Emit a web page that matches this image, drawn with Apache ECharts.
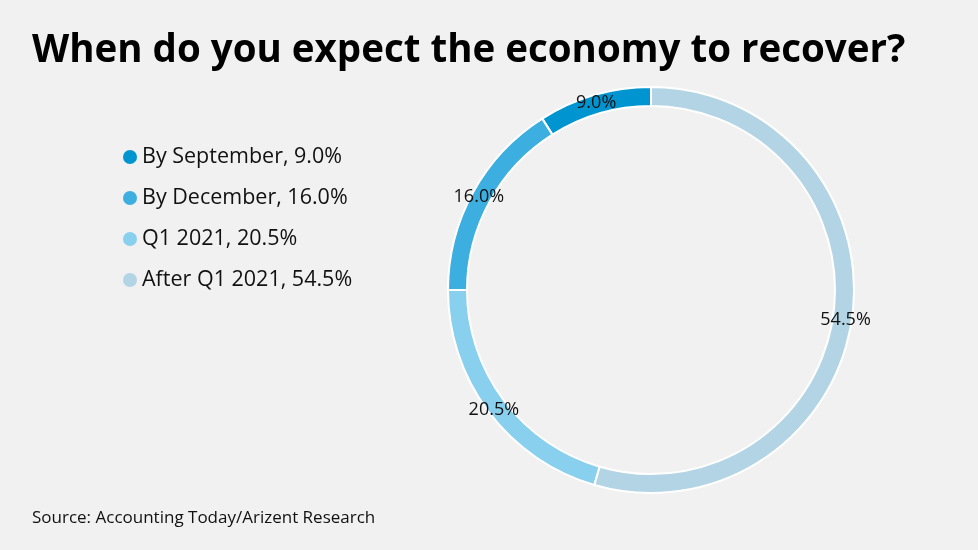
<!DOCTYPE html>
<html>
<head>
<meta charset="utf-8">
<script src="https://cdn.jsdelivr.net/npm/echarts@6/dist/echarts.min.js"></script>
<style>
html,body{margin:0;padding:0;background:#f0f1f0;}
#c{width:978px;height:550px;}
</style>
</head>
<body>
<div id="c"></div>
<script>
const categories = ['By September', 'By December', 'Q1 2021', 'After Q1 2021'];
const values = [9.0, 16.0, 20.5, 54.5];
const colors = ['#0095d1', '#3caee0', '#89cfee', '#b2d4e4'];

const chart = echarts.init(document.getElementById('c'));
const font = '"Open Sans", Lato, sans-serif';
chart.setOption({
  backgroundColor: '#f0f1f0',
  animation: false,
  title: [{
    text: 'When do you expect the economy to recover?',
    left: 27, top: 27,
    textStyle: {fontFamily: font, fontWeight: 'bold', fontSize: 38.5, color: '#000'}
  }, {
    text: 'Source: Accounting Today/Arizent Research',
    left: 27, top: 505,
    textStyle: {fontFamily: font, fontWeight: 'normal', fontSize: 17, color: '#111'}
  }],
  legend: {
    orient: 'vertical',
    left: 118, top: 141,
    icon: 'circle',
    itemWidth: 14, itemHeight: 14,
    itemGap: 19,
    itemStyle: {borderWidth: 0},
    data: categories,
    formatter: function (name) {
      const i = categories.indexOf(name);
      return name + ', ' + values[i].toFixed(1) + '%';
    },
    textStyle: {fontFamily: font, fontSize: 21.5, color: '#111', padding: [0,0,0,0]}
  },
  series: [{
    type: 'pie',
    center: [651, 290],
    radius: [184, 203],
    startAngle: 90,
    clockwise: false,
    silent: true,
    itemStyle: {borderColor: '#ffffff', borderWidth: 2},
    label: {
      position: 'inside',
      offset: [0, 2],
      formatter: function (p) { return p.value.toFixed(1) + '%'; },
      fontFamily: font, fontSize: 18, color: '#111'
    },
    labelLine: {show: false},
    data: categories.map((c, i) => ({name: c, value: values[i], itemStyle: {color: colors[i]}}))
  }]
});
</script>
</body>
</html>
